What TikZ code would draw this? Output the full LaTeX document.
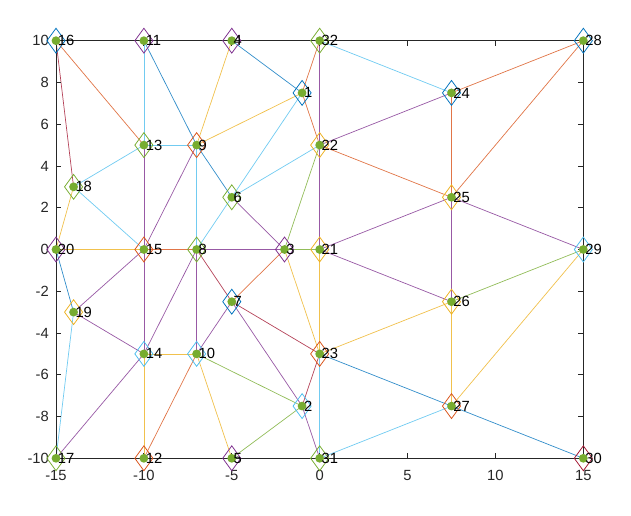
\documentclass[tikz,border=0pt]{standalone}
\usepackage{fontspec}
\setmainfont{Liberation Sans}
\usetikzlibrary{shapes.geometric}

\definecolor{mblue}{rgb}{0,0.447,0.741}
\definecolor{morange}{rgb}{0.85,0.325,0.098}
\definecolor{myellow}{rgb}{0.929,0.694,0.125}
\definecolor{mpurple}{rgb}{0.494,0.184,0.556}
\definecolor{mgreen}{rgb}{0.466,0.674,0.188}
\definecolor{mcyan}{rgb}{0.301,0.745,0.933}
\definecolor{mred}{rgb}{0.635,0.078,0.184}
\definecolor{axgray}{rgb}{0.15,0.15,0.15}

\begin{document}
\begin{tikzpicture}[x=0.43945cm, y=0.522cm, line width=0.5pt,
        edge/.style = {draw opacity=0.8},
        dia/.style = {draw, diamond, minimum width=0.46cm, minimum height=0.63cm, inner sep=0pt, line width=0.55pt},
        dot/.style = {circle, fill=mgreen, minimum size=0.22cm, inner sep=0pt},
        lbl/.style = {anchor=west, inner sep=0pt, xshift=0.04cm, font=\fontsize{10.5}{12}\selectfont},
        tk/.style = {inner sep=0pt, text=axgray, font=\fontsize{10.5}{12}\selectfont},
        ax/.style = {draw=axgray, line width=0.6pt}]
        \useasboundingbox (-18.186,-12.763) rectangle (17.711,11.949);

        % mesh points
        \coordinate (1) at (-1,7.5);
        \coordinate (2) at (-1,-7.5);
        \coordinate (3) at (-2,0);
        \coordinate (4) at (-5,10);
        \coordinate (5) at (-5,-10);
        \coordinate (6) at (-5,2.5);
        \coordinate (7) at (-5,-2.5);
        \coordinate (8) at (-7,0);
        \coordinate (9) at (-7,5);
        \coordinate (10) at (-7,-5);
        \coordinate (11) at (-10,10);
        \coordinate (12) at (-10,-10);
        \coordinate (13) at (-10,5);
        \coordinate (14) at (-10,-5);
        \coordinate (15) at (-10,0);
        \coordinate (16) at (-15,10);
        \coordinate (17) at (-15,-10);
        \coordinate (18) at (-14,3);
        \coordinate (19) at (-14,-3);
        \coordinate (20) at (-15,0);
        \coordinate (21) at (0,0);
        \coordinate (22) at (0,5);
        \coordinate (23) at (0,-5);
        \coordinate (24) at (7.5,7.5);
        \coordinate (25) at (7.5,2.5);
        \coordinate (26) at (7.5,-2.5);
        \coordinate (27) at (7.5,-7.5);
        \coordinate (28) at (15,10);
        \coordinate (29) at (15,0);
        \coordinate (30) at (15,-10);
        \coordinate (31) at (0,-10);
        \coordinate (32) at (0,10);

        % edges
        \foreach \a/\b/\c in {16/13/morange, 16/18/mred, 11/13/mcyan, 11/9/mblue, 9/6/mblue,
                6/3/mpurple, 4/9/myellow, 4/1/mblue, 32/1/morange, 1/22/morange, 1/9/myellow,
                1/6/mcyan, 32/24/mcyan, 32/22/mpurple, 22/21/mpurple, 21/23/myellow, 23/31/mcyan,
                22/6/mcyan, 22/24/mpurple, 22/25/morange, 22/3/mgreen, 24/28/morange, 24/25/morange,
                25/28/morange, 25/21/mpurple, 25/29/mpurple, 25/26/mpurple, 21/26/mpurple,
                26/29/mgreen, 26/23/myellow, 26/27/myellow, 27/29/myellow, 23/27/mblue, 27/30/mblue,
                31/27/mcyan, 13/9/mcyan, 13/18/mcyan, 13/15/mpurple, 9/15/mpurple, 9/8/mcyan,
                18/20/myellow, 18/15/mcyan, 20/15/myellow, 15/8/morange, 8/3/mpurple, 3/21/mgreen,
                6/8/mcyan, 20/19/mblue, 19/17/mcyan, 19/15/mpurple, 19/14/mpurple, 15/14/mpurple,
                8/14/mpurple, 8/10/mpurple, 8/7/mred, 7/3/morange, 3/23/myellow, 7/10/mpurple,
                7/23/mred, 7/2/mpurple, 14/10/myellow, 14/17/mpurple, 14/12/myellow, 10/12/morange,
                10/5/myellow, 10/2/mgreen, 2/5/mgreen, 2/31/mpurple, 2/23/mred}
            \draw[edge, \c] (\a) -- (\b);

        % axes
        \draw[ax] (-15,-10) rectangle (15,10);
        \foreach \x [count=\i] in {-15,-10,...,15} {
            \draw[ax] (\x,-10) -- ++(0,0.13cm);
            \draw[ax] (\x,10) -- ++(0,-0.13cm);
            \node[tk] (xt\i) at ([yshift=-0.44cm]\x,-10) {\x};
        }
        \foreach \y [count=\i] in {-10,-8,...,10} {
            \draw[ax] (-15,\y) -- ++(0.13cm,0);
            \draw[ax] (15,\y) -- ++(-0.13cm,0);
            \node[tk, anchor=east] (yt\i) at ([xshift=-0.17cm]-15,\y) {\y};
        }

        % markers
        \foreach \n/\c in {1/mblue, 2/mcyan, 3/mpurple, 4/mpurple, 5/mpurple, 6/mgreen, 7/mblue,
                8/mgreen, 9/morange, 10/mcyan, 11/mpurple, 12/morange, 13/mgreen, 14/mcyan,
                15/morange, 16/mblue, 17/mgreen, 18/mgreen, 19/myellow, 20/mpurple, 21/myellow,
                22/myellow, 23/morange, 24/mblue, 25/myellow, 26/myellow, 27/morange, 28/mblue,
                29/mcyan, 30/mred, 31/mgreen, 32/mgreen}
            \node[dia, draw=\c] (d\n) at (\n) {};
        \foreach \n in {1,...,32} {
            \node[dot] (p\n) at (\n) {};
            \node[lbl] (t\n) at (\n) {\n};
        }

    \end{tikzpicture}
\end{document}
